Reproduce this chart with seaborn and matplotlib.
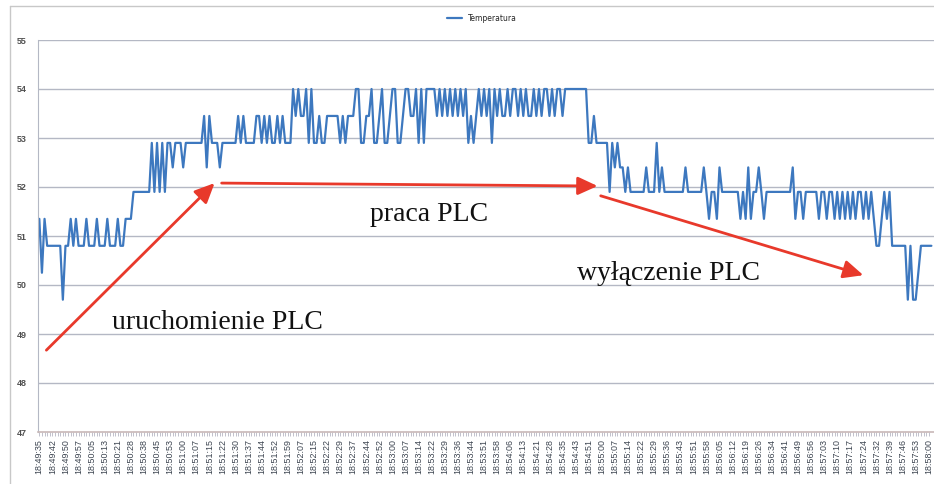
import matplotlib
matplotlib.use("Agg")
import matplotlib.pyplot as plt
import seaborn as sns
import pandas as pd
from matplotlib.lines import Line2D

# =========================================================
# DATA
# =========================================================

# thermometer steps (deg C), codes below index into this list
levels = [49.7, 50.25, 50.8, 51.35, 51.9, 52.4, 52.9, 53.45, 54.0]

# readings before / while / after the PLC is running
start_codes = (
    "313" "222222" "0" "2232322232223222322232" "2333"
    "4444444" "6464646" "6566656" "666666" "7576665" "666666"
)
work_codes = (
    "7676" "666" "77676766" "7676" "6687877" "86866766" "77777"
    "676777" "8866778667866788667887786868888" "787878787878"
    "676787878" "6" "8787787887878778787887878" "87888888888"
    "6676" "6666"
)
stop_codes = (
    "4656554544444" "454446454" "4444444" "5" "444444" "5434435"
    "444444" "434353445434" "444444444" "5344344444"
    "344344343434343443434" "32234342" "22222" "0200122222"
)

codes = start_codes + work_codes + stop_codes
temps = [levels[int(c)] for c in codes]

time_labels = [
    "18:49:35", "18:49:42", "18:49:50", "18:49:57", "18:50:05", "18:50:13",
    "18:50:21", "18:50:28", "18:50:38", "18:50:45", "18:50:53", "18:51:00",
    "18:51:07", "18:51:15", "18:51:22", "18:51:30", "18:51:37", "18:51:44",
    "18:51:52", "18:51:59", "18:52:07", "18:52:15", "18:52:22", "18:52:29",
    "18:52:37", "18:52:44", "18:52:52", "18:53:00", "18:53:07", "18:53:14",
    "18:53:22", "18:53:29", "18:53:36", "18:53:44", "18:53:51", "18:53:58",
    "18:54:06", "18:54:13", "18:54:21", "18:54:28", "18:54:35", "18:54:43",
    "18:54:51", "18:55:00", "18:55:07", "18:55:14", "18:55:22", "18:55:29",
    "18:55:36", "18:55:43", "18:55:51", "18:55:58", "18:56:05", "18:56:12",
    "18:56:19", "18:56:26", "18:56:34", "18:56:41", "18:56:49", "18:56:56",
    "18:57:03", "18:57:10", "18:57:17", "18:57:24", "18:57:32", "18:57:39",
    "18:57:46", "18:57:53", "18:58:00",
]
label_step = 5  # one label every 5 readings

df = pd.DataFrame({"sample": range(len(temps)), "Temperatura": temps})

# =========================================================
# FIGURE
# =========================================================

sns.set_style("white")

fig = plt.figure(figsize=(9.34, 4.84), dpi=100)
ax = fig.add_axes([38 / 934, 1 - 432 / 484, 896 / 934, 392 / 484])

sns.lineplot(
    data=df,
    x="sample",
    y="Temperatura",
    color="#3d78bf",
    linewidth=1.6,
    estimator=None,
    legend=False,
    ax=ax,
)

n_lab = (len(time_labels) - 1) * label_step
ax.set_xlim(-0.5, n_lab + 2.0)
ax.set_ylim(47, 55)
ax.set_yticks(range(47, 56))
ax.set_yticklabels([str(v) for v in range(47, 56)], fontsize=6.5,
                   fontweight="bold", color="#505050", family="Liberation Sans")

ax.set_xticks([i * label_step for i in range(len(time_labels))])
ax.set_xticklabels(time_labels, rotation=90, fontsize=6.4,
                   color="#3c4450", family="Liberation Sans")
ax.set_xticks(range(n_lab + 1), minor=True)
ax.tick_params(axis="x", which="both", length=3, width=0.5,
               color="#a8a8b8", pad=2, direction="out", bottom=True)
ax.tick_params(axis="y", length=0, pad=8)

for v in range(48, 56):
    ax.axhline(v, color="#b4b8c4", linewidth=1.0, zorder=0)

for side in ["top", "right"]:
    ax.spines[side].set_visible(False)
ax.spines["left"].set_color("#b4b8c4")
ax.spines["bottom"].set_color("#c8b8b8")
ax.spines["bottom"].set_linewidth(1.2)

ax.set_xlabel("")
ax.set_ylabel("")

# legend on top
fig.legend(
    handles=[Line2D([0], [0], color="#3d78bf", linewidth=1.6)],
    labels=["Temperatura"],
    loc="upper center",
    bbox_to_anchor=(0.516, 0.985),
    frameon=False,
    fontsize=5.5,
    handlelength=2.0,
)

# chart area border
fig.add_artist(Line2D([10 / 934, 10 / 934], [0, 1 - 6 / 484],
                      transform=fig.transFigure, color="#c8c8c8", linewidth=1))
fig.add_artist(Line2D([10 / 934, 1], [1 - 6 / 484, 1 - 6 / 484],
                      transform=fig.transFigure, color="#c8c8c8", linewidth=1))

# =========================================================
# ANNOTATIONS
# =========================================================

arrow_style = dict(arrowstyle="-|>,head_length=1.2,head_width=0.55",
                   color="#e8392b", linewidth=2.0, shrinkA=0, shrinkB=0)

ax.annotate("", xy=(67, 52.08), xytext=(2.7, 48.67), arrowprops=arrow_style)
ax.annotate("", xy=(213.4, 52.02), xytext=(69.7, 52.08), arrowprops=arrow_style)
ax.annotate("", xy=(315, 50.2), xytext=(214.6, 51.82), arrowprops=arrow_style)

text_style = dict(fontsize=20, family="Liberation Serif", color="#111111",
                  ha="center", va="center")
ax.text(68.2, 49.24, "uruchomienie PLC", **text_style)
ax.text(149, 51.43, "praca PLC", **text_style)
ax.text(240.6, 50.24, "wyłączenie PLC", **text_style)

fig.savefig("out.png", dpi=100)
